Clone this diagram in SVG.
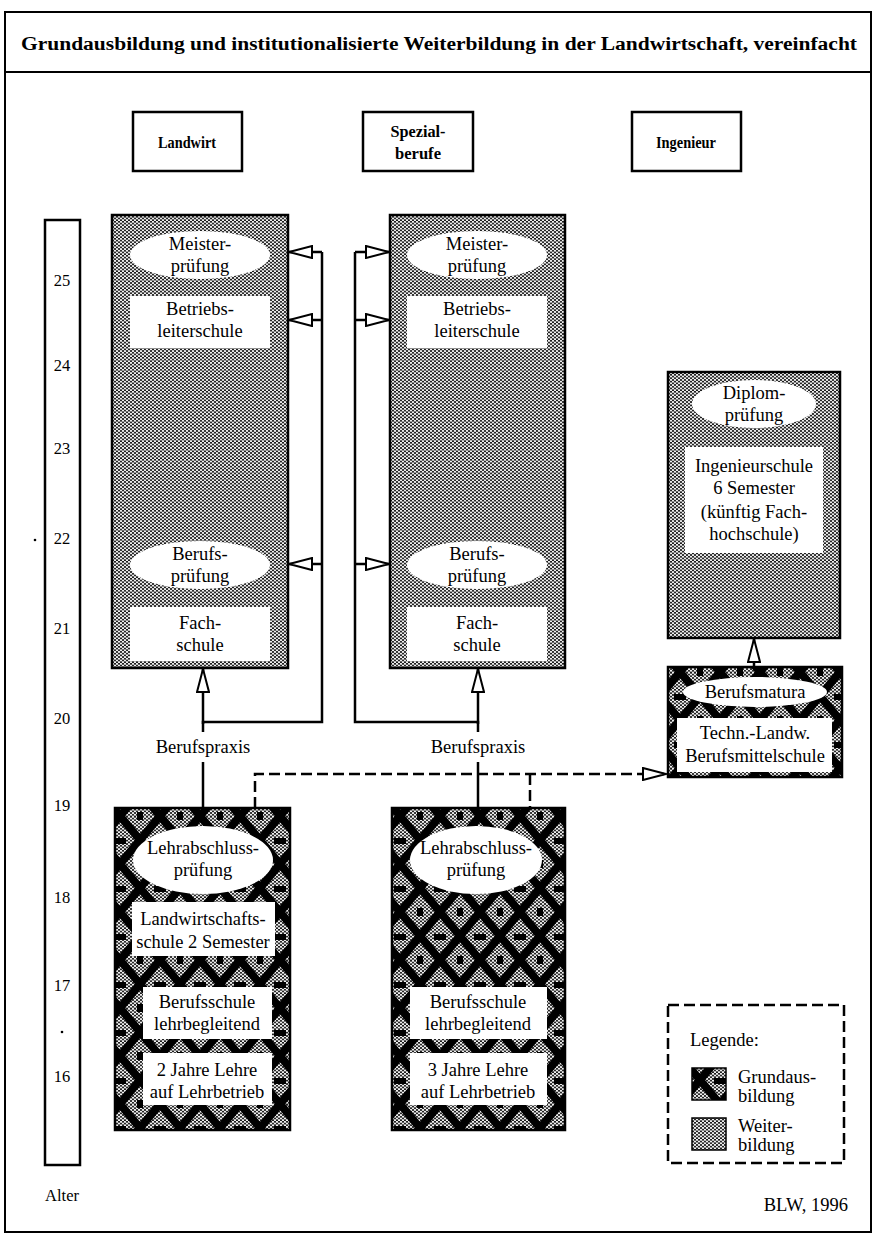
<svg xmlns="http://www.w3.org/2000/svg" width="878" height="1239" viewBox="0 0 878 1239">
<defs>
<style>
.t{font-family:"Liberation Serif","Times New Roman",serif;font-size:18.5px;text-anchor:middle;fill:#000}
.hb{font-weight:bold;font-size:17px}
.bx{stroke:#000;stroke-width:2.5}
.wf{fill:url(#dots)}
.gf{fill:url(#grund)}
.wh{fill:#fff;stroke:none}
.ln{fill:none;stroke:#000;stroke-width:2.5}
.ds{fill:none;stroke:#000;stroke-width:2.5;stroke-dasharray:11 5}
.age{font-size:16.5px}
</style>
<pattern id="dots" width="4" height="3.4" patternUnits="userSpaceOnUse"><rect width="4" height="3.4" fill="#1a1a1a"/><circle cx="1" cy="0.85" r="1.05" fill="#fff"/><circle cx="3" cy="2.55" r="1.05" fill="#fff"/></pattern>
<pattern id="grund" width="40" height="48" patternUnits="userSpaceOnUse"><rect width="40" height="48" fill="url(#dots)"/><path d="M0,0 L20,24 L0,48 M40,0 L20,24 L40,48" fill="none" stroke="#000" stroke-width="8"/><path d="M0,22 h6 v6 h-6z M34,22 h6 v6 h-6z M17,0 h6 v4 h-6z M17,44 h6 v4 h-6z" fill="#000"/></pattern>
<marker id="arr" markerWidth="26" markerHeight="14" refX="24" refY="7" orient="auto" markerUnits="userSpaceOnUse"><path d="M1,1 L24,7 L1,13 Z" fill="#fff" stroke="#000" stroke-width="2"/></marker>
</defs>
<rect width="878" height="1239" fill="#fff"/>
<g id="frame">
<rect x="5" y="12" width="866" height="1220" fill="none" stroke="#000" stroke-width="2"/>
<line x1="5" y1="72" x2="871" y2="72" stroke="#000" stroke-width="2"/>
<text class="t" x="439" y="50" font-size="21" font-weight="bold" textLength="836" lengthAdjust="spacingAndGlyphs">Grundausbildung und institutionalisierte Weiterbildung in der Landwirtschaft, vereinfacht</text>
</g>
<g id="head-landwirt"><rect class="bx" x="133" y="112" width="109" height="59" fill="#fff"/><text class="t hb" x="187" y="148" textLength="58" lengthAdjust="spacingAndGlyphs">Landwirt</text></g>
<g id="head-spezial"><rect class="bx" x="363" y="112" width="110" height="59" fill="#fff"/><text class="t hb" x="418" y="137" textLength="55" lengthAdjust="spacingAndGlyphs">Spezial-</text><text class="t hb" x="418" y="159" textLength="46" lengthAdjust="spacingAndGlyphs">berufe</text></g>
<g id="head-ingenieur"><rect class="bx" x="632" y="112" width="109" height="59" fill="#fff"/><text class="t hb" x="686" y="148" textLength="60" lengthAdjust="spacingAndGlyphs">Ingenieur</text></g>
<g id="age">
<rect x="45" y="220" width="35" height="945" fill="#fff" stroke="#000" stroke-width="2.5"/>
<text class="t age" x="62" y="286">25</text>
<text class="t age" x="62" y="371">24</text>
<text class="t age" x="62" y="454">23</text>
<text class="t age" x="62" y="544">22</text>
<text class="t age" x="62" y="634">21</text>
<text class="t age" x="62" y="724">20</text>
<text class="t age" x="62" y="811">19</text>
<text class="t age" x="62" y="903">18</text>
<text class="t age" x="62" y="991">17</text>
<text class="t age" x="62" y="1082">16</text>
<circle cx="35" cy="540" r="1.3" fill="#000"/>
<circle cx="62" cy="1032" r="1.3" fill="#000"/>
<text class="t age" x="62" y="1201">Alter</text>
</g>
<g id="weiter-landwirt">
<rect class="bx wf" x="112" y="215" width="176" height="453"/>
<ellipse class="wh" cx="200" cy="255" rx="70" ry="24"/>
<text class="t" x="200" y="250">Meister-</text><text class="t" x="200" y="272">prüfung</text>
<rect class="wh" x="130" y="296" width="140" height="52"/>
<text class="t" x="200" y="315">Betriebs-</text><text class="t" x="200" y="337">leiterschule</text>
<ellipse class="wh" cx="200" cy="565" rx="70" ry="24"/>
<text class="t" x="200" y="560">Berufs-</text><text class="t" x="200" y="582">prüfung</text>
<rect class="wh" x="130" y="607" width="140" height="54"/>
<text class="t" x="200" y="629">Fach-</text><text class="t" x="200" y="651">schule</text>
</g>
<g id="weiter-spezial">
<rect class="bx wf" x="390" y="215" width="175" height="453"/>
<ellipse class="wh" cx="477" cy="255" rx="70" ry="24"/>
<text class="t" x="477" y="250">Meister-</text><text class="t" x="477" y="272">prüfung</text>
<rect class="wh" x="407" y="296" width="140" height="52"/>
<text class="t" x="477" y="315">Betriebs-</text><text class="t" x="477" y="337">leiterschule</text>
<ellipse class="wh" cx="477" cy="565" rx="70" ry="24"/>
<text class="t" x="477" y="560">Berufs-</text><text class="t" x="477" y="582">prüfung</text>
<rect class="wh" x="407" y="607" width="140" height="54"/>
<text class="t" x="477" y="629">Fach-</text><text class="t" x="477" y="651">schule</text>
</g>
<g id="weiter-ingenieur">
<rect class="bx wf" x="668" y="372" width="172" height="266"/>
<ellipse class="wh" cx="754" cy="404" rx="62" ry="24"/>
<text class="t" x="754" y="399">Diplom-</text><text class="t" x="754" y="421">prüfung</text>
<rect class="wh" x="685" y="447" width="138" height="106"/>
<text class="t" x="754" y="472">Ingenieurschule</text>
<text class="t" x="754" y="494">6 Semester</text>
<text class="t" x="754" y="518">(künftig Fach-</text>
<text class="t" x="754" y="540">hochschule)</text>
</g>
<g id="grund-ingenieur">
<rect class="bx gf" x="668" y="667" width="174" height="110"/>
<ellipse class="wh" cx="755" cy="692" rx="72" ry="15"/>
<text class="t" x="755" y="698">Berufsmatura</text>
<rect class="wh" x="677" y="718" width="155" height="54"/>
<text class="t" x="755" y="739">Techn.-Landw.</text>
<text class="t" x="755" y="762">Berufsmittelschule</text>
</g>
<g id="grund-landwirt">
<rect class="bx gf" x="115" y="808" width="175" height="322"/>
<ellipse class="wh" cx="203" cy="860" rx="70" ry="34"/>
<text class="t" x="203" y="854">Lehrabschluss-</text><text class="t" x="203" y="876">prüfung</text>
<rect class="wh" x="132" y="902" width="143" height="54"/>
<text class="t" x="203" y="925" font-size="19">Landwirtschafts-</text><text class="t" x="203" y="948" font-size="19">schule 2 Semester</text>
<rect class="wh" x="143" y="987" width="129" height="52"/>
<text class="t" x="207" y="1008">Berufsschule</text><text class="t" x="207" y="1030">lehrbegleitend</text>
<rect class="wh" x="143" y="1053" width="129" height="52"/>
<text class="t" x="207" y="1076">2 Jahre Lehre</text><text class="t" x="207" y="1098">auf Lehrbetrieb</text>
</g>
<g id="grund-spezial">
<rect class="bx gf" x="392" y="808" width="173" height="322"/>
<ellipse class="wh" cx="476" cy="860" rx="66" ry="34"/>
<text class="t" x="476" y="854">Lehrabschluss-</text><text class="t" x="476" y="876">prüfung</text>
<rect class="wh" x="410" y="987" width="137" height="52"/>
<text class="t" x="478" y="1008">Berufsschule</text><text class="t" x="478" y="1030">lehrbegleitend</text>
<rect class="wh" x="410" y="1053" width="137" height="52"/>
<text class="t" x="478" y="1076">3 Jahre Lehre</text><text class="t" x="478" y="1098">auf Lehrbetrieb</text>
</g>
<g id="connectors">
<line class="ln" x1="203" y1="808" x2="203" y2="762"/>
<text class="t" x="203" y="753" font-size="23">Berufspraxis</text>
<path class="ln" d="M203,732 V722 H322 V252"/>
<line class="ln" x1="203" y1="724" x2="203" y2="669" marker-end="url(#arr)"/>
<line class="ln" x1="322" y1="252" x2="289" y2="252" marker-end="url(#arr)"/>
<line class="ln" x1="322" y1="320" x2="289" y2="320" marker-end="url(#arr)"/>
<line class="ln" x1="322" y1="564" x2="289" y2="564" marker-end="url(#arr)"/>
<line class="ln" x1="478" y1="808" x2="478" y2="762"/>
<text class="t" x="478" y="753" font-size="23">Berufspraxis</text>
<path class="ln" d="M478,732 V722 H355 V252"/>
<line class="ln" x1="478" y1="724" x2="478" y2="669" marker-end="url(#arr)"/>
<line class="ln" x1="355" y1="252" x2="389" y2="252" marker-end="url(#arr)"/>
<line class="ln" x1="355" y1="320" x2="389" y2="320" marker-end="url(#arr)"/>
<line class="ln" x1="355" y1="564" x2="389" y2="564" marker-end="url(#arr)"/>
<path class="ds" d="M255,808 V774 H666" marker-end="url(#arr)"/>
<path class="ds" d="M530,774 V808"/>
<line class="ln" x1="754" y1="667" x2="754" y2="639" marker-end="url(#arr)"/>
</g>
<g id="legend">
<rect x="668" y="1005" width="176" height="158" fill="none" stroke="#000" stroke-width="2.5" stroke-dasharray="11 5"/>
<text class="t" x="690" y="1046" style="text-anchor:start">Legende:</text>
<rect class="gf" x="692" y="1068" width="34" height="32" stroke="#000" stroke-width="1.5"/>
<text class="t" x="738" y="1083" style="text-anchor:start">Grundaus-</text>
<text class="t" x="738" y="1102" style="text-anchor:start">bildung</text>
<rect class="wf" x="692" y="1118" width="34" height="32" stroke="#000" stroke-width="1.5"/>
<text class="t" x="738" y="1132" style="text-anchor:start">Weiter-</text>
<text class="t" x="738" y="1151" style="text-anchor:start">bildung</text>
</g>
<text class="t" x="848" y="1211" style="text-anchor:end">BLW, 1996</text>
</svg>
